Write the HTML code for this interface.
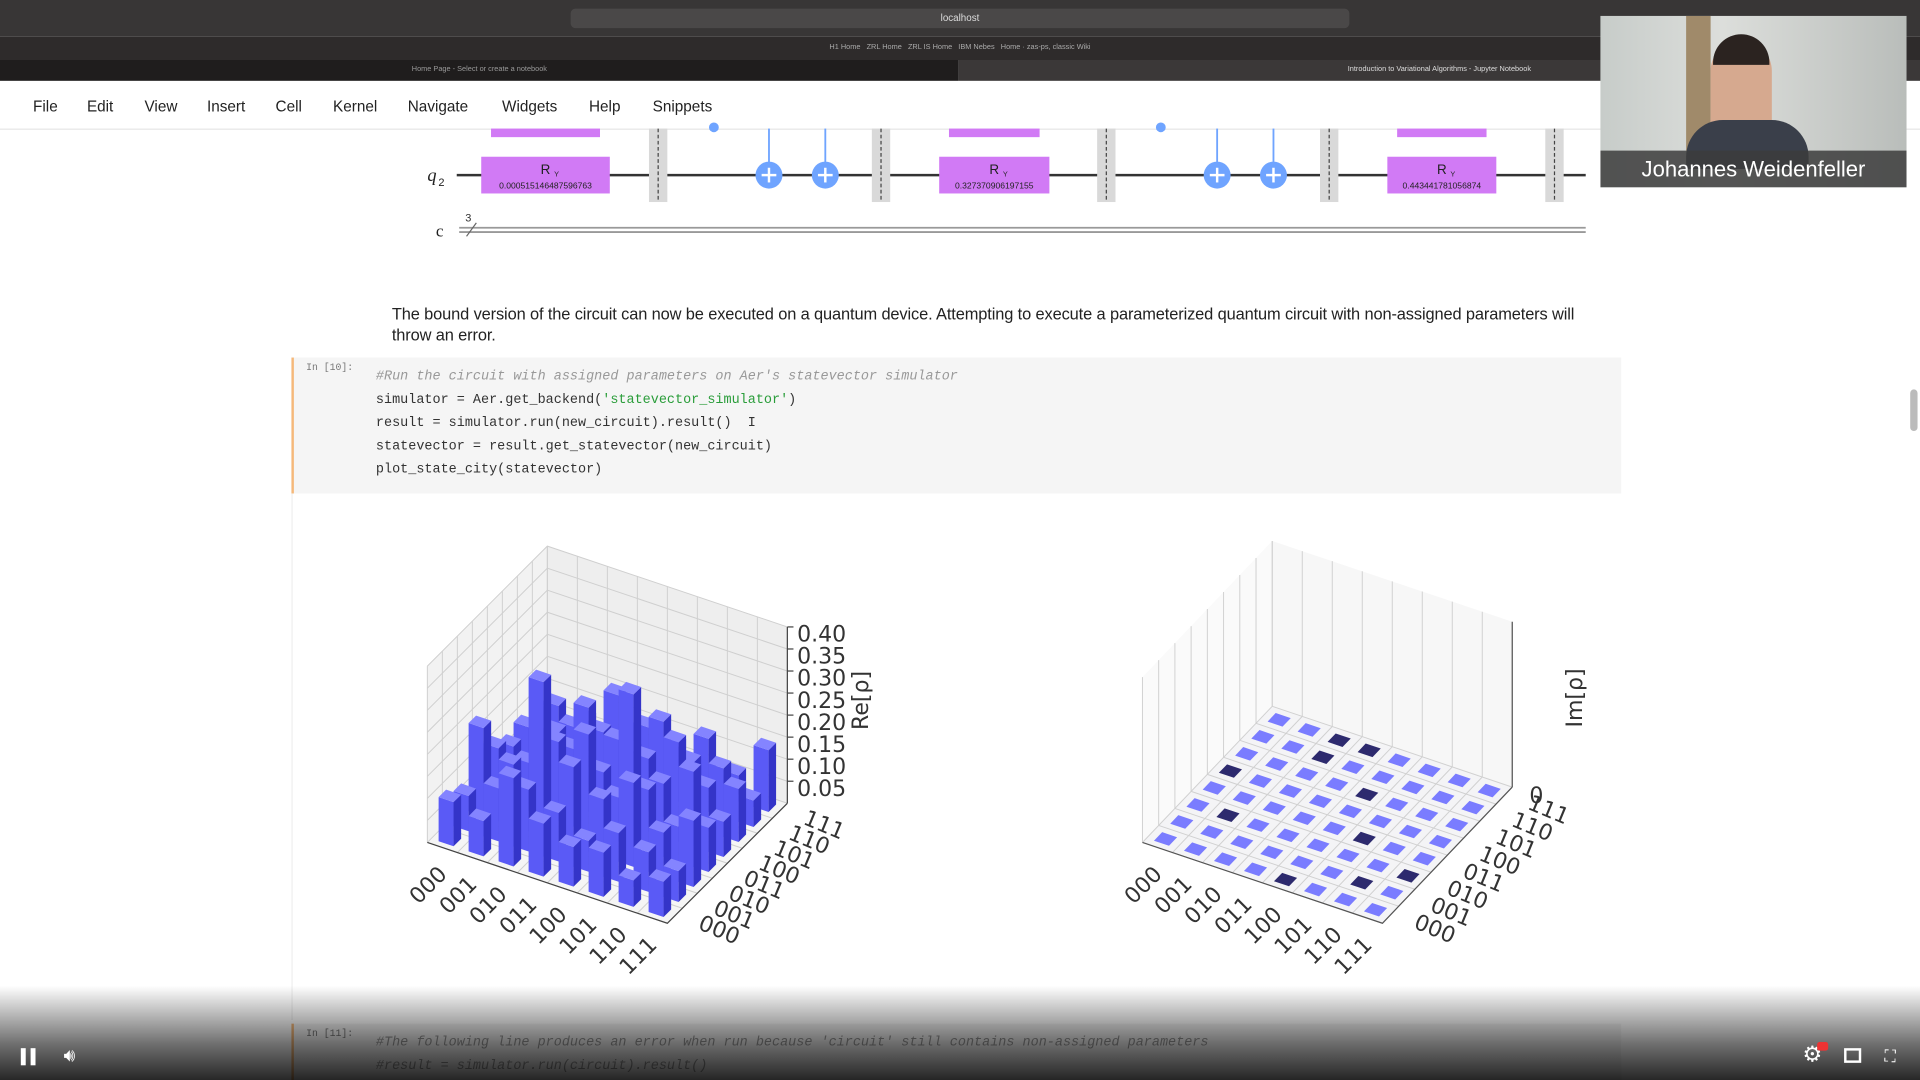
<!DOCTYPE html>
<html><head><meta charset="utf-8">
<style>
html,body{margin:0;padding:0;width:1920px;height:1080px;overflow:hidden;background:#fff;}
#wrap{position:absolute;left:0;top:0;width:1568px;height:882px;transform:scale(1.22449);transform-origin:0 0;font-family:"Liberation Sans",sans-serif;background:#fff;overflow:hidden;}
.abs{position:absolute;}
.menu span{position:absolute;top:80px;font-size:12.5px;color:#222;}
.code{font-family:"Liberation Mono",monospace;font-size:11px;color:#333;position:absolute;left:307px;white-space:pre;}
</style></head><body>
<div id="wrap">
  <div class="abs" style="left:0;top:0;width:1568px;height:30px;background:#383636;"></div>
  <div class="abs" style="left:466px;top:7px;width:636px;height:16px;background:#4a4848;border-radius:4px;color:#ddd;font-size:8px;text-align:center;line-height:16px;">localhost</div>
  <div class="abs" style="left:0;top:30px;width:1568px;height:19px;background:#2e2b2b;color:#aaa;font-size:6px;line-height:19px;text-align:center;">H1 Home &nbsp; ZRL Home &nbsp; ZRL IS Home &nbsp; IBM Nebes &nbsp; Home · zas-ps, classic Wiki</div>
  <div class="abs" style="left:0;top:49px;width:783px;height:17px;background:#1f1d1d;color:#999;font-size:6px;line-height:17px;text-align:center;">Home Page - Select or create a notebook</div>
  <div class="abs" style="left:783px;top:49px;width:785px;height:17px;background:#3b3838;color:#ddd;font-size:6px;line-height:17px;text-align:center;">Introduction to Variational Algorithms - Jupyter Notebook</div>
  <div class="menu">
    <span style="left:27px">File</span>
    <span style="left:71px">Edit</span>
    <span style="left:118px">View</span>
    <span style="left:169px">Insert</span>
    <span style="left:225px">Cell</span>
    <span style="left:272px">Kernel</span>
    <span style="left:333px">Navigate</span>
    <span style="left:410px">Widgets</span>
    <span style="left:481px">Help</span>
    <span style="left:533px">Snippets</span>
  </div>
  <div class="abs" style="left:0;top:105px;width:1568px;height:1px;background:#e6e6e6;"></div>

  <svg class="abs" style="left:0;top:0" width="1568" height="882">
    <g id="circ"></g>
  </svg>

  <div class="abs" style="left:320px;top:248px;width:1000px;font-size:13.4px;line-height:17px;color:#222;letter-spacing:-0.1px;">The bound version of the circuit can now be executed on a quantum device. Attempting to execute a parameterized quantum circuit with non-assigned parameters will<br>throw an error.</div>

  <div class="abs" style="left:238px;top:292px;width:1084px;height:111px;background:#f5f5f5;border-left:2px solid #f5b87a;"></div>
  <div class="abs" style="left:250px;top:296px;font-size:8px;color:#777;font-family:'Liberation Mono',monospace;">In [10]:</div>
  <div class="code" style="top:302px;color:#999;font-style:italic;">#Run the circuit with assigned parameters on Aer's statevector simulator</div>
  <div class="code" style="top:321px">simulator = Aer.get_backend(<span style="color:#2a9d3a">'statevector_simulator'</span>)</div>
  <div class="code" style="top:340px">result = simulator.run(new_circuit).result()  I</div>
  <div class="code" style="top:359px">statevector = result.get_statevector(new_circuit)</div>
  <div class="code" style="top:378px">plot_state_city(statevector)</div>
  <div class="abs" style="left:238px;top:403px;width:1px;height:430px;background:#eee;"></div>

  <svg class="abs" style="left:0;top:0" width="1568" height="882">
    <g id="reChart"></g>
    <g id="imChart"></g>
  </svg>

  <div class="abs" style="left:238px;top:836px;width:1084px;height:50px;background:#f5f5f5;border-left:2px solid #f5b87a;"></div>
  <div class="abs" style="left:250px;top:840px;font-size:8px;color:#777;font-family:'Liberation Mono',monospace;">In [11]:</div>
  <div class="code" style="top:846px;color:#999;font-style:italic;">#The following line produces an error when run because 'circuit' still contains non-assigned parameters</div>
  <div class="code" style="top:865px;color:#999;font-style:italic;">#result = simulator.run(circuit).result()</div>

  <div class="abs" style="left:1560px;top:318px;width:6px;height:34px;background:#bbb;border-radius:3px;"></div>

  <div class="abs" style="left:0;top:805px;width:1568px;height:77px;background:linear-gradient(rgba(0,0,0,0),rgba(0,0,0,0.55) 60%,rgba(0,0,0,0.85));"></div>
  <div class="abs" style="left:17px;top:856px;width:12px;height:14px;border-left:4px solid #fff;border-right:4px solid #fff;box-sizing:border-box;"></div>
  <div class="abs" style="left:52px;top:854px;color:#fff;font-size:15px;">🔊︎</div>
  <div class="abs" style="left:1472px;top:851px;color:#fff;font-size:18px;">⚙</div>
  <div class="abs" style="left:1484px;top:851px;width:9px;height:7px;background:#e33;border-radius:2px;"></div>
  <div class="abs" style="left:1506px;top:856px;width:14px;height:12px;border:2px solid #fff;box-sizing:border-box;"></div>
  <div class="abs" style="left:1539px;top:855px;color:#fff;font-size:13px;">⛶</div>

  <div class="abs" style="left:1307px;top:13px;width:250px;height:140px;background:linear-gradient(90deg,#c7ccc9,#dcdedb 40%,#b9bdba);overflow:hidden;">
    <div class="abs" style="left:70px;top:0;width:20px;height:110px;background:#a08a6a;"></div>
    <div class="abs" style="left:90px;top:20px;width:50px;height:80px;border-radius:25px 25px 10px 10px;background:#d6a98f;"></div>
    <div class="abs" style="left:92px;top:15px;width:46px;height:25px;border-radius:23px 23px 0 0;background:#2b2320;"></div>
    <div class="abs" style="left:70px;top:85px;width:100px;height:40px;border-radius:30px 30px 0 0;background:#3a3f4a;"></div>
    <div class="abs" style="left:0;top:110px;width:250px;height:30px;background:rgba(60,60,60,0.85);color:#fff;font-size:18px;line-height:30px;text-align:center;">Johannes Weidenfeller</div>
  </div>
</div>

<script>
// ===== Chart data =====
const basisLabels = ['000','001','010','011','100','101','110','111'];
const zTickValues = [0.05,0.10,0.15,0.20,0.25,0.30,0.35,0.40];
const zTickLabels = ['0.05','0.10','0.15','0.20','0.25','0.30','0.35','0.40'];
const reRow0 = [0.10,0.08,0.20,0.12,0.09,0.10,0.06,0.08];
const reRow1 = [0.08,0.12,0.14,0.11,0.07,0.11,0.09,0.07];
const reRow2 = [0.20,0.14,0.35,0.18,0.13,0.19,0.10,0.15];
const reRow3 = [0.12,0.11,0.18,0.22,0.10,0.14,0.08,0.10];
const reRow4 = [0.09,0.07,0.13,0.10,0.30,0.12,0.17,0.08];
const reRow5 = [0.10,0.11,0.19,0.14,0.12,0.18,0.10,0.12];
const reRow6 = [0.06,0.09,0.10,0.08,0.17,0.10,0.11,0.06];
const reRow7 = [0.08,0.07,0.15,0.10,0.08,0.12,0.06,0.14];
const reValues = [reRow0,reRow1,reRow2,reRow3,reRow4,reRow5,reRow6,reRow7];
const imRow0 = [0, 0, 0, 0,-0.001, 0, 0, 0];
const imRow1 = [0, 0,-0.001, 0, 0, 0, 0, 0];
const imRow2 = [0, 0, 0, 0, 0, 0,-0.001,-0.001];
const imRow3 = [0, 0, 0, 0, 0, 0, 0,-0.001];
const imRow4 = [-0.001, 0, 0, 0, 0,-0.001, 0, 0];
const imRow5 = [0, 0, 0,-0.001, 0, 0, 0, 0];
const imRow6 = [0,-0.001, 0, 0, 0, 0, 0, 0];
const imRow7 = [0, 0,-0.001, 0, 0, 0, 0, 0];
const imValues = [imRow0,imRow1,imRow2,imRow3,imRow4,imRow5,imRow6,imRow7];
const imTickLabels = ['0'];

const NS='http://www.w3.org/2000/svg';
function mk(tag,attrs,parent){const e=document.createElementNS(NS,tag);for(const k in attrs)e.setAttribute(k,attrs[k]);parent.appendChild(e);return e;}
function poly(pts){return pts.map(p=>p[0].toFixed(1)+','+p[1].toFixed(1)).join(' ');}

function axisLabels(g,P){
  basisLabels.forEach((l,i)=>{
    const p=P(i+0.5,0,0);
    const ax=p[0]-4, ay=p[1]+14;
    const t=mk('text',{x:ax,y:ay,'font-size':18,fill:'#333','text-anchor':'end','dominant-baseline':'hanging','font-family':'DejaVu Sans, sans-serif',transform:`rotate(-45 ${ax} ${ay})`},g);
    t.textContent=l;
    
    
    const q=P(8,i+0.5,0);
    const bx=q[0]+20, by=q[1]+6;
    const t2=mk('text',{x:bx,y:by,'font-size':18,fill:'#333','text-anchor':'start','dominant-baseline':'middle','font-family':'DejaVu Sans, sans-serif',transform:`rotate(22.5 ${bx} ${by})`},g);
    t2.textContent=l;
    
    
  });
}

// ===== Circuit =====
(function(){
  const g=document.getElementById('circ');
  const wire=mk('line',{x1:373,y1:143,x2:1295,y2:143,stroke:'#333','stroke-width':2},g);
  
  
  mk('line',{x1:375,y1:186,x2:1295,y2:186,stroke:'#999','stroke-width':1.5},g);
  mk('line',{x1:375,y1:189.5,x2:1295,y2:189.5,stroke:'#999','stroke-width':1.5},g);
  mk('line',{x1:381,y1:193,x2:389,y2:182,stroke:'#666','stroke-width':1},g);
  const t3=mk('text',{x:380,y:181,'font-size':9,fill:'#333'},g);t3.textContent='3';
  const ql=mk('text',{x:349,y:148,'font-size':15,'font-style':'italic',fill:'#222','font-family':'Liberation Serif, serif'},g);ql.textContent='q';
  const qs=mk('text',{x:358,y:152,'font-size':9,fill:'#222'},g);qs.textContent='2';
  const cl=mk('text',{x:356,y:193,'font-size':14,fill:'#222','font-family':'Liberation Serif, serif'},g);cl.textContent='c';
  [530,712,896,1078,1262].forEach(x=>{
    const b=mk('rect',{x:x,y:105,width:15,height:60,fill:'#d9d9d9'},g);
    
    
    mk('line',{x1:x+7.5,y1:105,x2:x+7.5,y2:165,stroke:'#444','stroke-width':1,'stroke-dasharray':'3,2'},g);
  });
  [[393,105,'0.000515146487596763'],[767,90,'0.327370906197155'],[1133,89,'0.443441781056874']].forEach(d=>{
    mk('rect',{x:d[0]+8,y:105,width:d[1]-16,height:7,fill:'#d17af5'},g);
    const r=mk('rect',{x:d[0],y:128,width:d[1],height:30,fill:'#d17af5'},g);
    
    
    const t=mk('text',{x:d[0]+d[1]/2,y:142,'font-size':11,'text-anchor':'middle',fill:'#222'},g);t.textContent='R';
    const s=mk('text',{x:d[0]+d[1]/2+7,y:144,'font-size':6,fill:'#222'},g);s.textContent='Y';
    const p=mk('text',{x:d[0]+d[1]/2,y:154,'font-size':7,'text-anchor':'middle',fill:'#222'},g);p.textContent=d[2];
  });
  [583,948].forEach(x=>mk('circle',{cx:x,cy:104,r:4,fill:'#6fa4ff'},g));
  [628,674,994,1040].forEach(x=>{
    mk('line',{x1:x,y1:105,x2:x,y2:143,stroke:'#6fa4ff','stroke-width':1.5},g);
    const c=mk('circle',{cx:x,cy:143,r:11,fill:'#6fa4ff'},g);
    
    
    mk('line',{x1:x-6,y1:143,x2:x+6,y2:143,stroke:'#fff','stroke-width':2},g);
    mk('line',{x1:x,y1:137,x2:x,y2:149,stroke:'#fff','stroke-width':2},g);
  });
})();

// ===== Re chart =====
(function(){
  const g=document.getElementById('reChart');
  const ZS=360, ZMAX=0.40;
  function P(u,v,z){return [349+u*24.5+v*12.25, 688+u*8.25-v*12.25-z*ZS];}
  mk('polygon',{points:poly([P(0,0,0),P(0,8,0),P(0,8,ZMAX),P(0,0,ZMAX)]),fill:'#f2f2f2'},g);
  mk('polygon',{points:poly([P(0,8,0),P(8,8,0),P(8,8,ZMAX),P(0,8,ZMAX)]),fill:'#eeeeee'},g);
  mk('polygon',{points:poly([P(0,0,0),P(8,0,0),P(8,8,0),P(0,8,0)]),fill:'#f5f5f5'},g);
  const gl={stroke:'#cfcfcf','stroke-width':0.8};
  for(let k=0;k<=8;k++){
    let a=P(0,k,0),b=P(0,k,ZMAX);mk('line',Object.assign({x1:a[0],y1:a[1],x2:b[0],y2:b[1]},gl),g);
    a=P(k,8,0);b=P(k,8,ZMAX);mk('line',Object.assign({x1:a[0],y1:a[1],x2:b[0],y2:b[1]},gl),g);
    a=P(k,0,0);b=P(k,8,0);mk('line',Object.assign({x1:a[0],y1:a[1],x2:b[0],y2:b[1]},gl),g);
    a=P(0,k,0);b=P(8,k,0);mk('line',Object.assign({x1:a[0],y1:a[1],x2:b[0],y2:b[1]},gl),g);
  }
  zTickValues.forEach(z=>{
    let a=P(0,0,z),b=P(0,8,z),c=P(8,8,z);
    mk('polyline',Object.assign({points:poly([a,b,c]),fill:'none'},gl),g);
  });
  let a=P(0,0,0),b=P(8,0,0),c=P(8,8,0);
  mk('polyline',{points:poly([a,b,c]),fill:'none',stroke:'#444','stroke-width':1},g);
  a=P(8,8,0);b=P(8,8,ZMAX);
  mk('line',{x1:a[0],y1:a[1],x2:b[0],y2:b[1],stroke:'#444','stroke-width':1},g);
  const cells=[];
  for(let i=0;i<8;i++)for(let j=0;j<8;j++)cells.push([i,j]);
  cells.sort((p,q)=>(p[0]-p[1])-(q[0]-q[1]) || (q[1]-p[1]));
  cells.forEach(([i,j])=>{
    const h=reValues[i][j];
    const u0=i+0.25,u1=i+0.75,v0=j+0.25,v1=j+0.75;
    const bg=mk('g',{},g);
    
    
    mk('polygon',{points:poly([P(u0,v0,0),P(u1,v0,0),P(u1,v0,h),P(u0,v0,h)]),fill:'#5a5af6'},bg);
    mk('polygon',{points:poly([P(u1,v0,0),P(u1,v1,0),P(u1,v1,h),P(u1,v0,h)]),fill:'#3434c8'},bg);
    mk('polygon',{points:poly([P(u0,v0,h),P(u1,v0,h),P(u1,v1,h),P(u0,v1,h)]),fill:'#8484ff'},bg);
  });
  axisLabels(g,P);
  zTickValues.forEach((z,k)=>{
    const p=P(8,8,z);
    mk('line',{x1:p[0],y1:p[1],x2:p[0]+5,y2:p[1],stroke:'#444'},g);
    const t=mk('text',{x:p[0]+8,y:p[1]+12,'font-size':18,fill:'#333','font-family':'DejaVu Sans, sans-serif'},g);
    t.textContent=zTickLabels[k];
    
    
  });
  const zt=mk('text',{x:709,y:572,'font-size':18,fill:'#333','text-anchor':'middle','font-family':'DejaVu Sans, sans-serif',transform:'rotate(-90 709 572)'},g);
  zt.textContent='Re[ρ]';
  
  
})();

// ===== Im chart =====
(function(){
  const g=document.getElementById('imChart');
  const WH=135;
  function P(u,v,z){return [933+u*24.5+v*13.25, 688+u*8.25-v*13.9-z*WH];}
  mk('polygon',{points:poly([P(0,0,0),P(0,8,0),P(0,8,1),P(0,0,1)]),fill:'#fafafa'},g);
  mk('polygon',{points:poly([P(0,8,0),P(8,8,0),P(8,8,1),P(0,8,1)]),fill:'#f7f7f7'},g);
  mk('polygon',{points:poly([P(0,0,0),P(8,0,0),P(8,8,0),P(0,8,0)]),fill:'#f4f4f6'},g);
  const gl={stroke:'#d0d0d0','stroke-width':0.8};
  for(let k=0;k<=8;k++){
    let a=P(0,k,0),b=P(0,k,1);mk('line',Object.assign({x1:a[0],y1:a[1],x2:b[0],y2:b[1]},gl),g);
    a=P(k,8,0);b=P(k,8,1);mk('line',Object.assign({x1:a[0],y1:a[1],x2:b[0],y2:b[1]},gl),g);
    a=P(k,0,0);b=P(k,8,0);mk('line',Object.assign({x1:a[0],y1:a[1],x2:b[0],y2:b[1]},gl),g);
    a=P(0,k,0);b=P(8,k,0);mk('line',Object.assign({x1:a[0],y1:a[1],x2:b[0],y2:b[1]},gl),g);
  }
  let a=P(0,0,0),b=P(8,0,0),c=P(8,8,0);
  mk('polyline',{points:poly([a,b,c]),fill:'none',stroke:'#555','stroke-width':1},g);
  a=P(8,8,0);b=P(8,8,1);
  mk('line',{x1:a[0],y1:a[1],x2:b[0],y2:b[1],stroke:'#555','stroke-width':1},g);
  for(let i=0;i<8;i++)for(let j=0;j<8;j++){
    const u0=i+0.25,u1=i+0.75,v0=j+0.25,v1=j+0.75,h=imValues[i][j];
    const s=mk('polygon',{points:poly([P(u0,v0,h),P(u1,v0,h),P(u1,v1,h),P(u0,v1,h)]),fill:h<0?'#2d2a6e':'#7a7cff'},g);
    
    
  }
  axisLabels(g,P);
  const p=P(8,8,0);
  const z0=mk('text',{x:p[0]+14,y:p[1]+13,'font-size':18,fill:'#333','font-family':'DejaVu Sans, sans-serif'},g);
  z0.textContent=imTickLabels[0];
  
  
  const zt=mk('text',{x:1292,y:570,'font-size':18,fill:'#333','text-anchor':'middle','font-family':'DejaVu Sans, sans-serif',transform:'rotate(-90 1292 570)'},g);
  zt.textContent='Im[ρ]';
  
  
})();
</script>
</body></html>
